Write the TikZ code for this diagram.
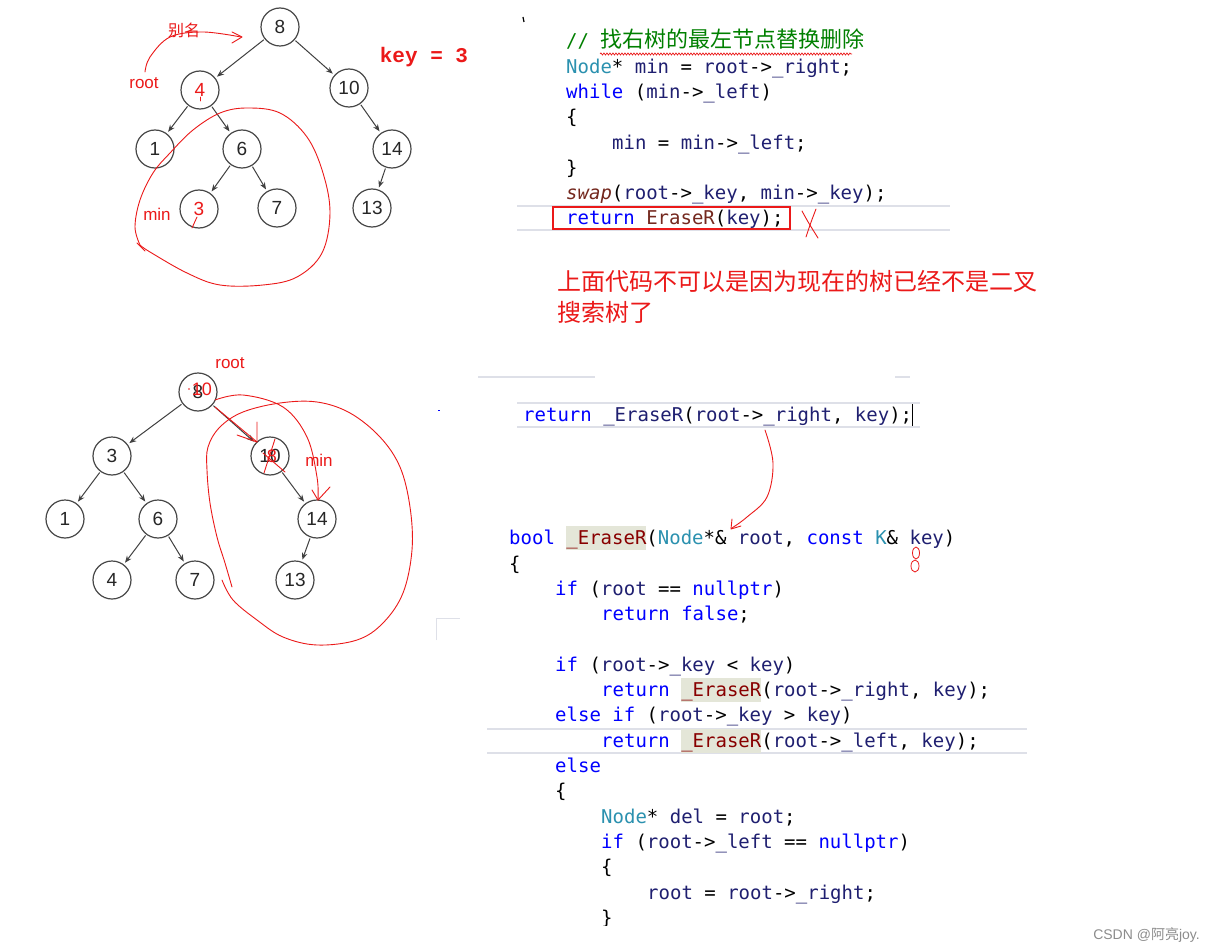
\documentclass[tikz,border=0pt]{standalone}
\usepackage{fontspec}
\setmainfont{Liberation Sans}
\newfontfamily\codefont{DejaVu Sans Mono}
\newfontfamily\cjk{Noto Sans CJK SC}
\newfontfamily\keyfont{Liberation Mono}
\usetikzlibrary{arrows.meta,decorations.pathmorphing}
\definecolor{kwc}{RGB}{0,0,255}
\definecolor{tyc}{RGB}{43,145,175}
\definecolor{idc}{RGB}{31,31,112}
\definecolor{fnc}{RGB}{136,0,0}
\definecolor{swc}{RGB}{116,40,30}
\definecolor{cmc}{RGB}{0,128,0}
\definecolor{hlc}{RGB}{228,230,216}
\definecolor{hand}{RGB}{235,25,25}
\definecolor{sepc}{RGB}{222,224,232}
\newcommand\ckw[1]{\textcolor{kwc}{#1}}
\newcommand\cty[1]{\textcolor{tyc}{#1}}
\newcommand\cid[1]{\textcolor{idc}{#1}}
\newcommand\cfn[1]{\textcolor{fnc}{#1}}
\newcommand\chl[1]{{\setlength{\fboxsep}{0pt}\colorbox{hlc}{\rule[-6pt]{0pt}{24pt}\textcolor{fnc}{#1}}}}
\tikzset{
  tnode/.style={circle, draw=black!72, line width=1.2pt, minimum size=38pt, inner sep=0pt,
    font=\fontsize{19}{19}\selectfont, text=black!85},
  tedge/.style={draw=black!75, line width=1pt, -{Stealth[length=7pt,width=5.5pt]}, shorten <=1pt, shorten >=2pt},
  code/.style={anchor=base west, inner sep=0pt, font=\codefont\fontsize{19}{19}\selectfont},
  handline/.style={draw=hand, line width=0.9pt, line cap=round, line join=round},
  handtext/.style={text=hand, inner sep=0pt, font=\fontsize{17}{17}\selectfont},
  sep/.style={draw=sepc, line width=1.5pt}
}
\begin{document}
\begin{tikzpicture}[x=1pt,y=-1pt]
\useasboundingbox[fill=white] (0,0) rectangle (1215,952);

% ---------- tree 1 ----------
\node[tnode] (a8) at (280,27) {8};
\node[tnode,text=hand] (a4) at (200,90) {4};
\node[tnode] (a10) at (349,88) {10};
\node[tnode] (a1) at (155,149) {1};
\node[tnode] (a6) at (242,149) {6};
\node[tnode] (a14) at (392,149) {14};
\node[tnode,text=hand] (a3) at (199,209) {3};
\node[tnode] (a7) at (277,208) {7};
\node[tnode] (a13) at (372,208) {13};
\foreach \p/\c in {a8/a4,a8/a10,a4/a1,a4/a6,a10/a14,a6/a3,a6/a7,a14/a13}
  \draw[tedge] (\p) -- (\c);

\node[handtext] (t1root) at (144,83) {root};
\node[handtext,font=\cjk\fontsize{16}{16}\selectfont] (t1alias) at (184,30) {别名};
\node[handtext] (t1min) at (157,214) {min};
\node[text=hand,inner sep=0pt,font=\keyfont\bfseries\fontsize{21}{21}\selectfont] (key) at (424,57) {key = 3};

\draw[handline] plot[smooth,tension=0.6] coordinates {(145,72) (150,57) (170,37) (203,32) (241,37)};
\draw[handline] (232,32) -- (242,37) -- (232,43);
\draw[handline] (200,97) -- (200,101);
\draw[handline] (192,228) -- (197,217);
\draw[handline] plot[smooth,tension=0.6] coordinates {(140,245) (135,227) (140,200) (153,173) (170,153) (193,130) (220,113) (247,108) (280,113) (307,137) (323,173) (330,213) (322,253) (297,277) (263,285) (220,285) (187,273) (150,252) (140,245)};
\draw[handline] (137,243) -- (145,251);

% ---------- tree 2 ----------
\node[tnode] (b8) at (198,392) {8};
\node[tnode] (b3) at (112,456) {3};
\node[tnode] (b10) at (270,456) {10};
\node[tnode] (b1) at (65,519) {1};
\node[tnode] (b6) at (158,519) {6};
\node[tnode] (b14) at (317,519) {14};
\node[tnode] (b4) at (112,580) {4};
\node[tnode] (b7) at (195,580) {7};
\node[tnode] (b13) at (295,580) {13};
\foreach \p/\c in {b8/b3,b8/b10,b3/b1,b3/b6,b10/b14,b6/b4,b6/b7,b14/b13}
  \draw[tedge] (\p) -- (\c);

\node[handtext] (t2root) at (230,363) {root};
\node[handtext] (t2min) at (319,460) {min};
\node[text=hand,inner sep=0pt,font=\fontsize{18}{18}\selectfont] (b8red) at ([xshift=4pt,yshift=3pt]b8.center) {10};
\fill[hand] (189,389) circle (0.9pt);
\node[text=hand,inner sep=0pt,font=\fontsize{18}{18}\selectfont] (b10red) at ([xshift=2pt]b10.center) {8};
\draw[handline] (275,439) -- (264,473);
\draw[handline] (263,453) -- (285,472);
\draw[handline] (215,407) -- (257,442);
\draw[handline] (237,435) -- (257,442) -- (257,422);
\draw[handline] plot[smooth,tension=0.6] coordinates {(215,400) (243,395) (283,407) (307,437) (317,477) (318,500)};
\draw[handline] (312,490) -- (318,500) -- (330,487);
\draw[handline] plot[smooth,tension=0.6] coordinates {(232,587) (225,563) (217,537) (210,503) (207,470) (208,447) (220,427) (243,412) (280,403) (317,402) (350,413) (380,437) (400,467) (410,507) (412,550) (403,593) (383,623) (357,640) (317,645) (283,637) (257,620) (233,600) (222,580)};

% ---------- top code ----------
\draw[black, line width=1.2pt] (523,17) -- (524,22);
\draw[sep] (517,206) -- (950,206);
\draw[sep] (517,230) -- (950,230);
\node[code] (c1) at (566,48) {\textcolor{cmc}{// {\cjk\fontsize{22}{22}\selectfont 找右树的最左节点替换删除}}};
\draw[hand, line width=0.7pt, decorate, decoration={snake, amplitude=1pt, segment length=3pt}] (600,54) -- (852,54);
\node[code] (c2) at (566,74) {\cty{Node}* \cid{min} = \cid{root}->\cid{\_right};};
\node[code] (c3) at (566,99) {\ckw{while} (\cid{min}->\cid{\_left})};
\node[code] (c4) at (566,124) {\{};
\node[code] (c5) at (612,150) {\cid{min} = \cid{min}->\cid{\_left};};
\node[code] (c6) at (566,175) {\}};
\node[code] (c7) at (566,200) {\textcolor{swc}{\itshape swap}(\cid{root}->\cid{\_key}, \cid{min}->\cid{\_key});};
\node[code] (c8) at (566,225) {\ckw{return} \textcolor{swc}{EraseR}(\cid{key});};
\draw[draw=hand, line width=1.6pt] (553,207) rectangle (790,229);
\draw[handline] (802,211) .. controls (808,222) .. (818,238);
\draw[handline] (816,209) .. controls (811,222) .. (806,237);

\node[inner sep=0pt, anchor=west, text=hand, font=\cjk\fontsize{24}{24}\selectfont] (note1) at (557,281) {上面代码不可以是因为现在的树已经不是二叉};
\node[inner sep=0pt, anchor=west, text=hand, font=\cjk\fontsize{24}{24}\selectfont] (note2) at (557,312) {搜索树了};

% ---------- bottom code ----------
\draw[sep] (478,377) -- (595,377);
\draw[sep] (895,377) -- (910,377);
\fill[kwc] (438,410) rectangle (440,411);
\draw[sep] (517,403) -- (920,403);
\draw[sep] (517,427) -- (920,427);
\node[code] (r0) at (523,421) {\ckw{return} \cid{\_EraseR}(\cid{root}->\cid{\_right}, \cid{key});};
\draw[black, line width=0.9pt] (912,404) -- (912,426);
\draw[sep, line width=1pt] (436,640) -- (436,618) -- (460,618);

\draw[handline] plot[smooth,tension=0.6] coordinates {(765,430) (773,463) (767,497) (747,517) (732,528)};
\draw[handline] (732,519) -- (731,529) -- (741,526);

\draw[sep] (487,729) -- (1027,729);
\draw[sep] (487,753) -- (1027,753);
\node[code] (d1) at (509,544) {\ckw{bool} \chl{\_EraseR}(\cty{Node}*\& \cid{root}, \ckw{const} \cty{K}\& \cid{key})};
\node[code] (d2) at (509,570) {\{};
\node[code] (d3) at (555,595) {\ckw{if} (\cid{root} == \ckw{nullptr})};
\node[code] (d4) at (601,620) {\ckw{return} \ckw{false};};
\node[code] (d5) at (555,671) {\ckw{if} (\cid{root}->\cid{\_key} < \cid{key})};
\node[code] (d6) at (601,696) {\ckw{return} \chl{\_EraseR}(\cid{root}->\cid{\_right}, \cid{key});};
\node[code] (d7) at (555,721) {\ckw{else} \ckw{if} (\cid{root}->\cid{\_key} > \cid{key})};
\node[code] (d8) at (601,747) {\ckw{return} \chl{\_EraseR}(\cid{root}->\cid{\_left}, \cid{key});};
\node[code] (d9) at (555,772) {\ckw{else}};
\node[code] (d10) at (555,797) {\{};
\node[code] (d11) at (601,823) {\cty{Node}* \cid{del} = \cid{root};};
\node[code] (d12) at (601,848) {\ckw{if} (\cid{root}->\cid{\_left} == \ckw{nullptr})};
\node[code] (d13) at (601,873) {\{};
\node[code] (d14) at (647,899) {\cid{root} = \cid{root}->\cid{\_right};};
\begin{scope}
\clip (590,900) rectangle (630,925);
\node[code] (d15) at (601,924) {\}};
\end{scope}

\draw[handline, line width=0.8pt] (916,553) ellipse (3.5pt and 6pt);
\draw[handline, line width=0.8pt] (915,566) ellipse (4pt and 6pt);

\node[anchor=east, inner sep=0pt, text=black!45, font=\fontsize{14}{14}\selectfont] (wm) at (1200,935) {CSDN @{\cjk 阿亮}joy.};
\end{tikzpicture}
\end{document}
